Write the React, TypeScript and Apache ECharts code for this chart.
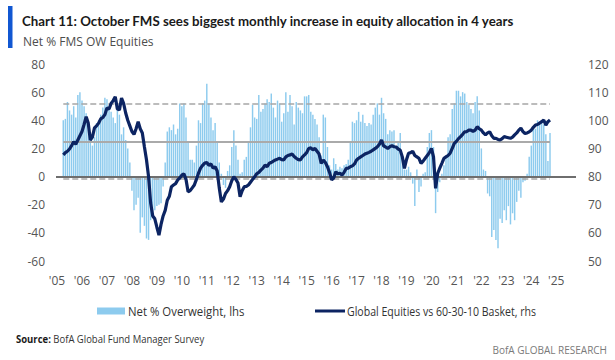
import React, { useEffect, useRef } from 'react';
import * as echarts from 'echarts';

// Monthly categories Jan 2005 .. Oct 2025
const FIRST_YEAR = 2005;
const LAST_YEAR = 2025;
const LAST_MONTH = 10;
const DATA_START = '2005-04';
const DATA_END = '2024-10';

// Net % Overweight equities (lhs), monthly from Apr 2005 to Oct 2024
const netOverweight: number[] = [
  40, 41, 53, 47, 44, 50, 42, 58, 60,
  54, 50, 45, 38, 26, 22, 28, 38, 40, 44, 49, 56,
  55, 48, 46, 42, 38, 47, 44, 30, 35, 26, 20, 10,
  -10, -24, -20, -15, -40, -29, -35, -44, -45, -31, -28, -24,
  -21, -20, -19, -7, 10, 32, 35, 33, 37, 30, 34, 52,
  50, 52, 42, 24, 12, 12, 10, 22, 40, 38, 52, 54,
  66, 52, 42, 33, 38, 24, 10, 2, -6, -8, 4, 8,
  21, 33, 22, 12, 2, 3, 12, 14, 24, 35, 51, 42,
  41, 58, 46, 48, 52, 55, 53, 59, 49, 42, 54, 52,
  39, 45, 60, 46, 58, 50, 37, 53, 49, 47, 45, 57,
  57, 58, 46, 44, 41, 37, 28, 15, 44, 42, 21, 8,
  5, 13, 9, 5, 7, 6, 8, 9, 12, 24, 39, 38,
  40, 46, 39, 44, 38, 36, 38, 37, 44, 49, 52, 44,
  56, 45, 41, 30, 33, 32, 33, 21, 25, 31, 12, 5,
  5, 7, 3, -5, -21, 5, -11, -7, 2, 3, 21, 31,
  33, 21, -26, -11, -4, 2, 8, 15, 28, 30, 48, 52,
  61, 61, 57, 60, 59, 53, 51, 48, 45, 53, 57, 47,
  20, 5, 4, -12, -14, -43, -38, -45, -51, -30, -33, -24,
  -31, -21, -34, -26, -31, -18, -10, -15, -4, -3, 2, 14,
  22, 34, 34, 40, 37, 39, 37, 30, 11, 31,
];

// Global Equities vs 60-30-10 Basket (rhs), monthly from Apr 2005 to Oct 2024
const equitiesVsBasket: number[] = [
  87.7, 88.5, 89, 89.8, 91, 92.4, 91.5, 93, 94.5,
  96, 98.5, 101.3, 99, 93, 94, 97.3, 98, 99, 100.5, 101, 102,
  104.4, 104, 106, 107, 108.4, 104, 103.7, 107.9, 106, 102.6, 100, 98,
  96, 95, 97, 99.5, 97, 95.5, 90.6, 86, 80, 70.6, 66, 65,
  62, 59.2, 63, 66, 68, 71.6, 73, 76.4, 77, 77.5, 78.8, 79.5,
  80.5, 81, 79, 74.6, 75, 76, 77, 79, 81.2, 83, 84, 84.8,
  85, 84, 84.5, 83, 83.5, 82, 75.9, 71, 72, 74, 75, 76.4,
  78.5, 79.9, 79, 77.7, 72.8, 75, 76.4, 76.5, 77, 78, 79, 79.9,
  81, 81.5, 82.3, 83, 84.1, 83.5, 84.7, 85, 85.5, 85.9, 86.2, 86.5,
  86, 85.9, 87, 87.5, 87.7, 88, 87.1, 86.5, 86, 85.9, 87, 87.7,
  88.5, 90, 90.2, 89.5, 90, 89, 88, 84.7, 85.9, 85, 83.5, 81.5,
  78.8, 79.5, 81.7, 81, 81.2, 80.5, 81.5, 82.9, 83, 83.5, 83.8, 84.5,
  85.9, 86.5, 87, 87.5, 88, 88.3, 88.6, 89, 89.5, 90, 90.6, 91.5,
  93, 90.9, 90.5, 90, 90.6, 91, 90.6, 90.5, 89.8, 89.4, 87, 82.9,
  86, 88.3, 88.5, 89, 87.5, 87, 86.5, 84.7, 85.5, 86.5, 87.5, 88.5,
  90, 87, 75.8, 81.1, 83, 84.7, 86.5, 87, 87.5, 88.3, 90, 91.8,
  92.5, 93.5, 94.2, 95, 95.9, 96, 96.5, 96.5, 96, 96.5, 97.7, 97,
  96.5, 95.5, 94.8, 95.5, 95.9, 94.5, 93.6, 93.6, 93.2, 93, 93.5, 94.2,
  94, 93.8, 93.6, 94, 94.8, 95.5, 96.5, 97.2, 96, 95.3, 95.5, 95.9,
  96.5, 97.5, 98.3, 98.5, 99, 99.5, 100.1, 98.3, 99.5, 100.1,
];

// Reference levels (lhs): average +/- 1 std
const refUpper = 51.5;
const refAverage = 25;
const refLower = -1.5;

const LEFT_MIN = -60, LEFT_MAX = 80, LEFT_STEP = 20;
const RIGHT_MIN = 50, RIGHT_MAX = 120, RIGHT_STEP = 10;

const TITLE = 'Chart 11: October FMS sees biggest monthly increase in equity allocation in 4 years';
const SUBTITLE = 'Net % FMS OW Equities';
const LEGEND_BAR = 'Net % Overweight, lhs';
const LEGEND_LINE = 'Global Equities vs 60-30-10 Basket, rhs';
const SOURCE_LABEL = 'Source:';
const SOURCE_TEXT = ' BofA Global Fund Manager Survey';
const FOOTER = 'BofA GLOBAL RESEARCH';

const BAR_COLOR = '#8dcbee';
const LINE_COLOR = '#0c2462';
const AXIS_TEXT = '#555555';

function buildMonths(): string[] {
  const out: string[] = [];
  for (let y = FIRST_YEAR; y <= LAST_YEAR; y++) {
    for (let m = 1; m <= 12; m++) {
      if (y === LAST_YEAR && m > LAST_MONTH) break;
      out.push(`${y}-${m < 10 ? '0' + m : m}`);
    }
  }
  return out;
}

export default function App() {
  const ref = useRef<HTMLDivElement>(null);
  useEffect(() => {
    if (!ref.current) return;
    const chart = echarts.init(ref.current, undefined, { renderer: 'svg' });
    const months = buildMonths();
    const startIdx = months.indexOf(DATA_START);
    const pad = (arr: number[]) =>
      months.map((_, i) => {
        const k = i - startIdx;
        return k >= 0 && k < arr.length ? arr[k] : null;
      });
    const refLine = (v: number, type: string, color: string, width: number) => [
      { coord: [DATA_START, v], lineStyle: { type, color, width } },
      { coord: [DATA_END, v] },
    ];
    const font = 'Open Sans';
    chart.setOption({
      animation: false,
      grid: { left: 56, right: 39, top: 64, height: 197 },
      xAxis: {
        type: 'category',
        data: months,
        boundaryGap: true,
        axisLine: { show: false },
        axisTick: { show: false },
        splitLine: { show: false },
        axisLabel: {
          interval: (i: number) => i % 12 === 0,
          formatter: (v: string) => "'" + v.slice(2, 4),
          color: AXIS_TEXT,
          fontSize: 12,
          fontFamily: font,
          margin: 13,
        },
      },
      yAxis: [
        {
          type: 'value', min: LEFT_MIN, max: LEFT_MAX, interval: LEFT_STEP,
          axisLine: { show: false }, axisTick: { show: false }, splitLine: { show: false },
          axisLabel: { color: AXIS_TEXT, fontSize: 12, fontFamily: font, margin: 11 },
        },
        {
          type: 'value', min: RIGHT_MIN, max: RIGHT_MAX, interval: RIGHT_STEP, position: 'right',
          axisLine: { show: false }, axisTick: { show: false }, splitLine: { show: false },
          axisLabel: { color: AXIS_TEXT, fontSize: 12, fontFamily: font, margin: 12 },
        },
      ],
      series: [
        {
          type: 'bar',
          name: LEGEND_BAR,
          data: pad(netOverweight),
          barWidth: '70%',
          itemStyle: { color: BAR_COLOR },
          markLine: {
            silent: true,
            symbol: ['none', 'none'],
            label: { show: false },
            data: [
              refLine(refUpper, 'dashed', '#a6a6a6', 1.5),
              refLine(refAverage, 'solid', '#aaaaaa', 2),
              refLine(refLower, 'dashed', '#a6a6a6', 1.5),
              { yAxis: 0, lineStyle: { type: 'solid', color: '#6e6e6e', width: 2 } },
            ],
          },
        },
        {
          type: 'line',
          name: LEGEND_LINE,
          yAxisIndex: 1,
          data: pad(equitiesVsBasket),
          showSymbol: false,
          lineStyle: { color: LINE_COLOR, width: 3.2 },
          z: 5,
        },
      ],
      graphic: [
        { type: 'rect', shape: { x: 8, y: 6, width: 4.5, height: 42 }, style: { fill: '#1157d2' } },
        {
          type: 'text', x: 22, y: 21, scaleX: 0.95,
          style: { text: TITLE, font: 'bold 14px Lato', fill: '#1a1a1a', textVerticalAlign: 'middle' },
        },
        {
          type: 'text', x: 23, y: 41,
          style: { text: SUBTITLE, font: '12px Open Sans', fill: '#4d4d4d', textVerticalAlign: 'middle' },
        },
        { type: 'rect', shape: { x: 97, y: 307.5, width: 28, height: 7 }, style: { fill: BAR_COLOR } },
        {
          type: 'text', x: 128, y: 311, scaleX: 0.95,
          style: { text: LEGEND_BAR, font: '12px Open Sans', fill: '#333', textVerticalAlign: 'middle' },
        },
        { type: 'rect', shape: { x: 315, y: 309.5, width: 30, height: 3 }, style: { fill: LINE_COLOR } },
        {
          type: 'text', x: 347, y: 311, scaleX: 0.88,
          style: { text: LEGEND_LINE, font: '12px Open Sans', fill: '#333', textVerticalAlign: 'middle' },
        },
        {
          type: 'text', x: 16, y: 339, scaleX: 0.95,
          style: {
            text: `{b|${SOURCE_LABEL}}{n|${SOURCE_TEXT}}`,
            rich: {
              b: { font: 'bold 10px Open Sans', fill: '#1a1a1a' },
              n: { font: '10px Open Sans', fill: '#333' },
            },
            textVerticalAlign: 'middle',
          },
        },
        {
          type: 'text', x: 607, y: 350,
          style: { text: FOOTER, font: '10px Open Sans', fill: '#7a7a7a', textAlign: 'right', textVerticalAlign: 'middle' },
        },
      ],
    });
    return () => chart.dispose();
  }, []);
  return <div ref={ref} style={{ width: 615, height: 360, position: 'absolute', left: 0, top: 0 }} />;
}
